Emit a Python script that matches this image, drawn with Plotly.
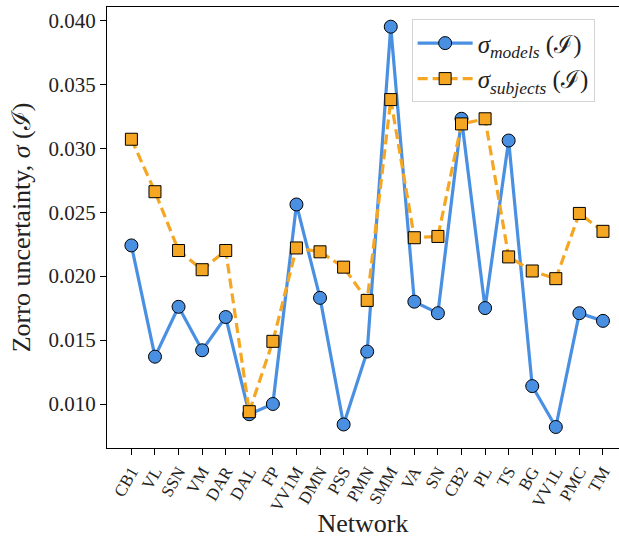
import plotly.graph_objects as go

# Networks along the x axis
networks = ["CB1", "VL", "SSN", "VM", "DAR", "DAL", "FP", "VV1M", "DMN", "PSS",
            "PMN", "SMM", "VA", "SN", "CB2", "PL", "TS", "BG", "VV1L", "PMC", "TM"]

# Zorro uncertainty per network
sigma_models = [0.0224, 0.0137, 0.0176, 0.0142, 0.0168, 0.0092, 0.0100, 0.0256,
                0.0183, 0.0084, 0.0141, 0.0395, 0.0180, 0.0171, 0.0323, 0.0175,
                0.0306, 0.0114, 0.0082, 0.0171, 0.0165]
sigma_subjects = [0.0307, 0.0266, 0.0220, 0.0205, 0.0220, 0.0094, 0.0149, 0.0222,
                  0.0219, 0.0207, 0.0181, 0.0338, 0.0230, 0.0231, 0.0319, 0.0323,
                  0.0215, 0.0204, 0.0198, 0.0249, 0.0235]

y_ticks = [0.010, 0.015, 0.020, 0.025, 0.030, 0.035, 0.040]

BLUE = "#4A90E2"
ORANGE = "#F5A623"
FONT = "Liberation Serif, Times New Roman, DejaVu Serif, serif"

x = list(range(len(networks)))

fig = go.Figure()
fig.add_trace(go.Scatter(
    x=x, y=sigma_models, mode="lines+markers",
    name="<i>σ</i><sub><i>models</i></sub> (ℐ)",
    line=dict(color=BLUE, width=3.2),
    marker=dict(symbol="circle", size=13, color=BLUE,
                line=dict(color="black", width=1)),
))
fig.add_trace(go.Scatter(
    x=x, y=sigma_subjects, mode="lines+markers",
    name="<i>σ</i><sub><i>subjects</i></sub> (ℐ)",
    line=dict(color=ORANGE, width=3.2, dash="10px,5px"),
    marker=dict(symbol="square", size=12, color=ORANGE,
                line=dict(color="black", width=1)),
))

fig.update_layout(
    width=619, height=538,
    margin=dict(l=107, r=0, t=7, b=90),
    paper_bgcolor="white", plot_bgcolor="white",
    font=dict(family=FONT, color="#222222"),
    showlegend=True,
    legend=dict(
        x=0.595, y=0.972, xanchor="left", yanchor="top",
        bgcolor="rgba(255,255,255,0.8)", bordercolor="#d4d4d4", borderwidth=1,
        font=dict(family=FONT, size=25, color="#222222"),
        itemwidth=55, tracegroupgap=0,
    ),
    xaxis=dict(
        range=[-1.035, 20.68], automargin=False,
        tickmode="array", tickvals=x, ticktext=networks,
        tickangle=-60, tickfont=dict(family=FONT, size=17, color="#222222"),
        ticks="outside", ticklen=6, tickwidth=1, tickcolor="black",
        showline=True, linecolor="black", linewidth=1, mirror=True,
        showgrid=False, zeroline=False,
        title=dict(text="Network", font=dict(family=FONT, size=26, color="#222222"),
                   standoff=8),
    ),
    yaxis=dict(
        range=[0.00656, 0.04104], automargin=False,
        tickmode="array", tickvals=y_ticks, tickformat=".3f",
        tickfont=dict(family=FONT, size=21, color="#222222"),
        ticks="outside", ticklen=6, tickwidth=1, tickcolor="black",
        showline=True, linecolor="black", linewidth=1, mirror=False,
        showgrid=False, zeroline=False,
        title=dict(text="Zorro uncertainty, <i>σ</i> (ℐ)",
                   font=dict(family=FONT, size=26, color="#222222"),
                   standoff=10),
    ),
)

fig.write_html("out.html")
